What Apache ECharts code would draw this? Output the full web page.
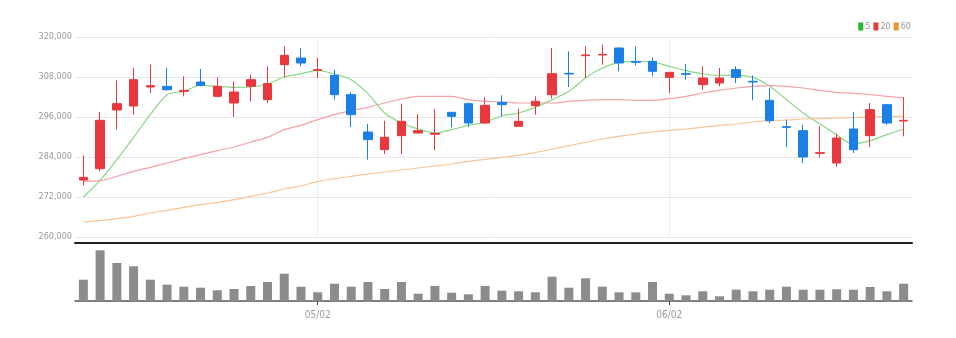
<!DOCTYPE html>
<html>
<head>
<meta charset="utf-8">
<script src="https://cdn.jsdelivr.net/npm/echarts@6/dist/echarts.min.js"></script>
<style>
  html, body { margin: 0; padding: 0; background: #fff; }
  #chart { width: 956px; height: 338px; }
</style>
</head>
<body>
<div id="chart"></div>
<script>
// Trading days (MM/DD)
const dates = [
  '04/12','04/13','04/14','04/15','04/18','04/19','04/20','04/21','04/22','04/25','04/26','04/27','04/28','04/29',
  '05/02','05/03','05/04','05/06','05/09','05/10','05/11','05/12','05/13','05/16','05/17','05/18','05/19','05/20',
  '05/23','05/24','05/25','05/26','05/27','05/30','05/31',
  '06/02','06/03','06/07','06/08','06/09','06/10','06/13','06/14','06/15','06/16','06/17','06/20','06/21','06/22','06/23'
];

// Month-start labels shown on the date axis
const tickLabels = ['05/02', '06/02'];

// Daily prices: [open, close, low, high]
const ohlc = [
  [277100, 277900, 275500, 284500],
  [280500, 295000, 279700, 297500],
  [298100, 300000, 292200, 307000],
  [299300, 307200, 296700, 310700],
  [305000, 305400, 303200, 311700],
  [305200, 304200, 303900, 310700],
  [303700, 304000, 302200, 308200],
  [306500, 305500, 305200, 310400],
  [302200, 305200, 301900, 307900],
  [300200, 303500, 296000, 306700],
  [305200, 307200, 300700, 308700],
  [301200, 306000, 300200, 311200],
  [311700, 314500, 307900, 317200],
  [313700, 312200, 311200, 316700],
  [310000, 310200, 307700, 313700],
  [308500, 302700, 301200, 310200],
  [302700, 296700, 293000, 303500],
  [291500, 289200, 283200, 293900],
  [286200, 289900, 284900, 294900],
  [290400, 294700, 284900, 300000],
  [291200, 291900, 291200, 296900],
  [290800, 291100, 286000, 298400],
  [297400, 296200, 292900, 297400],
  [300000, 294200, 293000, 300400],
  [294200, 299500, 293900, 302000],
  [300400, 299700, 296200, 302500],
  [293200, 294700, 293200, 298500],
  [299400, 300700, 296700, 302200],
  [302700, 309000, 301500, 316700],
  [309100, 308900, 305000, 315700],
  [314400, 314600, 307700, 317200],
  [314600, 314800, 311700, 317700],
  [316700, 312200, 309700, 316900],
  [312600, 312400, 311500, 317200],
  [312700, 309700, 308200, 313900],
  [307900, 309400, 303200, 309400],
  [309000, 308800, 307200, 311900],
  [305700, 307700, 304200, 311200],
  [306200, 307700, 305200, 310700],
  [310200, 307900, 306200, 311200],
  [306700, 306500, 301000, 308500],
  [301000, 294900, 294200, 304700],
  [293100, 292900, 287000, 295200],
  [291900, 284000, 282200, 293700],
  [285100, 285300, 283900, 293200],
  [282200, 289700, 281000, 291000],
  [292400, 286200, 285200, 297500],
  [290400, 298200, 287000, 300200],
  [299700, 294200, 293700, 299900],
  [294800, 295000, 290200, 302000]
];

// Moving averages
const ma5 = [
  272000, 277000, 283200, 289900, 296700, 302700, 303700, 305500, 305200, 304900,
  305000, 305900, 308000, 309000, 310000, 308900, 307200, 303000, 297200, 294200,
  292400, 291200, 292200, 293500, 294500, 296300, 297200, 298900, 301200, 303700,
  307700, 310700, 312400, 312700, 312500, 311200, 309900, 308900, 308500, 308500,
  307900, 305200, 301200, 297200, 293900, 290700, 287900, 288900, 290700, 292400
];
const ma20 = [
  276700, 276900, 278200, 279700, 280900, 282200, 283500, 284700, 285900, 287000,
  288500, 289900, 292200, 293500, 295200, 296700, 297900, 298900, 300200, 301400,
  302200, 302200, 302200, 301200, 300700, 300500, 300200, 300200, 300200, 300700,
  301000, 301200, 301200, 301000, 301000, 301500, 302200, 303200, 304000, 304700,
  305200, 305400, 305200, 304700, 304000, 303400, 303100, 302700, 302200, 301700
];
const ma60 = [
  264500, 264900, 265500, 266200, 267200, 268000, 268900, 269700, 270400, 271200,
  272200, 273200, 274400, 275300, 276700, 277500, 278200, 278900, 279500, 280100,
  280700, 281300, 281900, 282700, 283300, 283900, 284500, 285300, 286400, 287400,
  288400, 289400, 290200, 290900, 291500, 292000, 292400, 292900, 293500, 293900,
  294500, 294900, 295100, 295400, 295500, 295700, 295800, 296000, 296200, 296200
];

// Daily traded volume
const volume = [
  213000, 507000, 380000, 347000, 213000, 163000, 143000, 133000, 107000, 120000,
  150000, 190000, 273000, 143000, 87000, 173000, 143000, 190000, 120000, 190000,
  73000, 150000, 83000, 67000, 150000, 103000, 97000, 87000, 243000, 133000,
  227000, 143000, 87000, 87000, 190000, 73000, 57000, 97000, 47000, 113000,
  97000, 113000, 143000, 113000, 113000, 117000, 113000, 140000, 97000, 173000
];

const FONT = '"Liberation Sans Narrow", "DejaVu Sans Condensed", "Liberation Sans", sans-serif';
const UP = '#e8383d';
const DOWN = '#1b7fe6';
const atMonthStart = (idx, val) => tickLabels.indexOf(val) !== -1;

const chart = echarts.init(document.getElementById('chart'), null, { renderer: 'canvas' });

chart.setOption({
  animation: false,
  backgroundColor: '#ffffff',
  legend: {
    data: ['5', '20', '60'],
    right: 40,
    top: 17,
    icon: 'rect',
    itemWidth: 5,
    itemHeight: 8,
    itemGap: 3,
    textStyle: { color: '#999', fontSize: 9, fontFamily: FONT, padding: [0, 0, 0, -3] }
  },
  grid: [
    { left: 75, right: 44, top: 37, height: 200 },
    { left: 75, right: 44, top: 245, height: 56 }
  ],
  xAxis: [
    {
      type: 'category',
      gridIndex: 0,
      data: dates,
      boundaryGap: true,
      offset: 6,
      axisLine: { show: true, lineStyle: { color: '#222', width: 2 } },
      axisTick: { show: false },
      axisLabel: { show: false },
      splitLine: { show: false }
    },
    {
      type: 'category',
      gridIndex: 1,
      data: dates,
      boundaryGap: true,
      axisLine: { show: true, lineStyle: { color: '#555', width: 1.5 } },
      axisTick: { show: true, interval: atMonthStart, alignWithLabel: true, length: 4, lineStyle: { color: '#444' } },
      axisLabel: { show: true, interval: atMonthStart, color: '#999', fontSize: 10, fontFamily: FONT, margin: 9 },
      splitLine: { show: false }
    }
  ],
  yAxis: [
    {
      type: 'value',
      gridIndex: 0,
      min: 260000,
      max: 320000,
      interval: 12000,
      axisLine: { show: false },
      axisTick: { show: false },
      axisLabel: {
        color: '#999',
        fontSize: 9,
        fontFamily: FONT,
        margin: 3,
        formatter: v => v.toLocaleString('en-US')
      },
      splitLine: { show: true, lineStyle: { color: '#e6e6e6', width: 1 } }
    },
    {
      type: 'value',
      gridIndex: 1,
      min: 0,
      max: 560000,
      show: false,
      splitLine: { show: false }
    }
  ],
  series: [
    {
      name: 'price',
      type: 'candlestick',
      xAxisIndex: 0,
      yAxisIndex: 0,
      data: ohlc,
      barWidth: 9,
      z: 3,
      itemStyle: {
        color: UP,
        color0: DOWN,
        borderColor: UP,
        borderColor0: DOWN,
        borderWidth: 1
      }
    },
    {
      name: '5',
      type: 'line',
      xAxisIndex: 0,
      yAxisIndex: 0,
      data: ma5,
      smooth: 0.3,
      symbol: 'none',
      itemStyle: { color: '#27b52a' },
      lineStyle: { color: '#86d886', width: 1.2 },
      z: 2
    },
    {
      name: '20',
      type: 'line',
      xAxisIndex: 0,
      yAxisIndex: 0,
      data: ma20,
      smooth: 0.3,
      symbol: 'none',
      itemStyle: { color: '#e8383d' },
      lineStyle: { color: '#f4a2a6', width: 1.2 },
      z: 2
    },
    {
      name: '60',
      type: 'line',
      xAxisIndex: 0,
      yAxisIndex: 0,
      data: ma60,
      smooth: 0.3,
      symbol: 'none',
      itemStyle: { color: '#f0922c' },
      lineStyle: { color: '#f7c597', width: 1.2 },
      z: 2,
      // vertical guides at the start of each month, kept beneath the candles
      markLine: {
        silent: true,
        z: 1,
        symbol: 'none',
        label: { show: false },
        lineStyle: { color: '#ececec', width: 1, type: 'solid' },
        data: tickLabels.map(d => ({ xAxis: d }))
      }
    },
    {
      name: 'volume',
      type: 'bar',
      xAxisIndex: 1,
      yAxisIndex: 1,
      data: volume,
      barWidth: 9,
      itemStyle: { color: '#8c8c8c' }
    }
  ]
});
</script>
</body>
</html>
